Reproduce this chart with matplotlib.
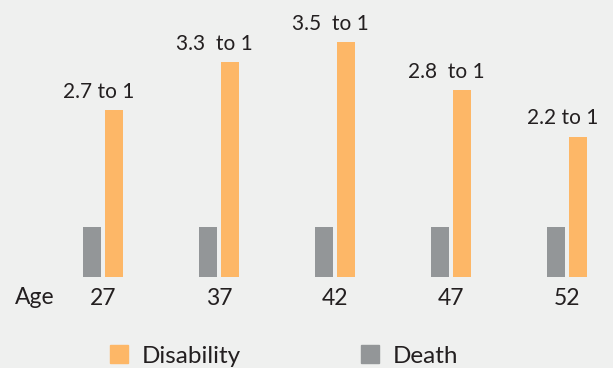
import numpy as np
import matplotlib.pyplot as plt
from matplotlib.patches import Patch

plt.rcParams['font.family'] = ['Lato', 'DejaVu Sans']

# Data (death bar = 1 unit)
ages = ['27', '37', '42', '47', '52']
death = [1.0, 1.0, 1.0, 1.0, 1.0]
disability = [3.34, 4.3, 4.7, 3.74, 2.8]
ratio_labels = ['2.7 to 1', '3.3  to 1', '3.5  to 1', '2.8  to 1', '2.2 to 1']

bg = '#eff0ef'
orange = '#fdb767'
grey = '#939698'
txt = '#231f20'

fig = plt.figure(figsize=(6.13, 3.68), dpi=100, facecolor=bg)
# axes: bar baseline at 277px from top, top of axes at figure top
ax = fig.add_axes([0, 91 / 368, 1, 277 / 368])
ax.set_facecolor(bg)

x = np.arange(len(ages))
w = 0.155
off = 0.095
ax.bar(x - off, death, width=w, color=grey)
ax.bar(x + off, disability, width=w, color=orange)

# ratio labels above disability bars
for xi, v, lab in zip(x, disability, ratio_labels):
    ax.annotate(lab, (xi - 0.04, v), xytext=(0, 9), textcoords='offset points',
                ha='center', va='baseline', fontsize=15, color=txt)

ax.set_xlim(-103 / 116, 510 / 116)
ax.set_ylim(0, 277 / 50)
ax.set_xticks(x)
ax.set_xticklabels(ages, fontsize=16.5, color=txt)
ax.tick_params(axis='x', length=0, pad=8)
ax.set_yticks([])
for s in ax.spines.values():
    s.set_visible(False)

fig.text(15 / 613, 1 - 298 / 368, 'Age', fontsize=16.5, color=txt, ha='left', va='center')

handles = [Patch(color=orange, label='Disability'), Patch(color=grey, label='Death')]
fig.legend(handles=handles, loc='center', bbox_to_anchor=(284 / 613, 1 - 356 / 368),
           ncol=2, frameon=False, fontsize=17.5, handlelength=0.75, handleheight=0.75,
           handletextpad=0.55, columnspacing=4.95, borderpad=0, labelcolor=txt)

fig.savefig('out.png', dpi=100, facecolor=bg)
